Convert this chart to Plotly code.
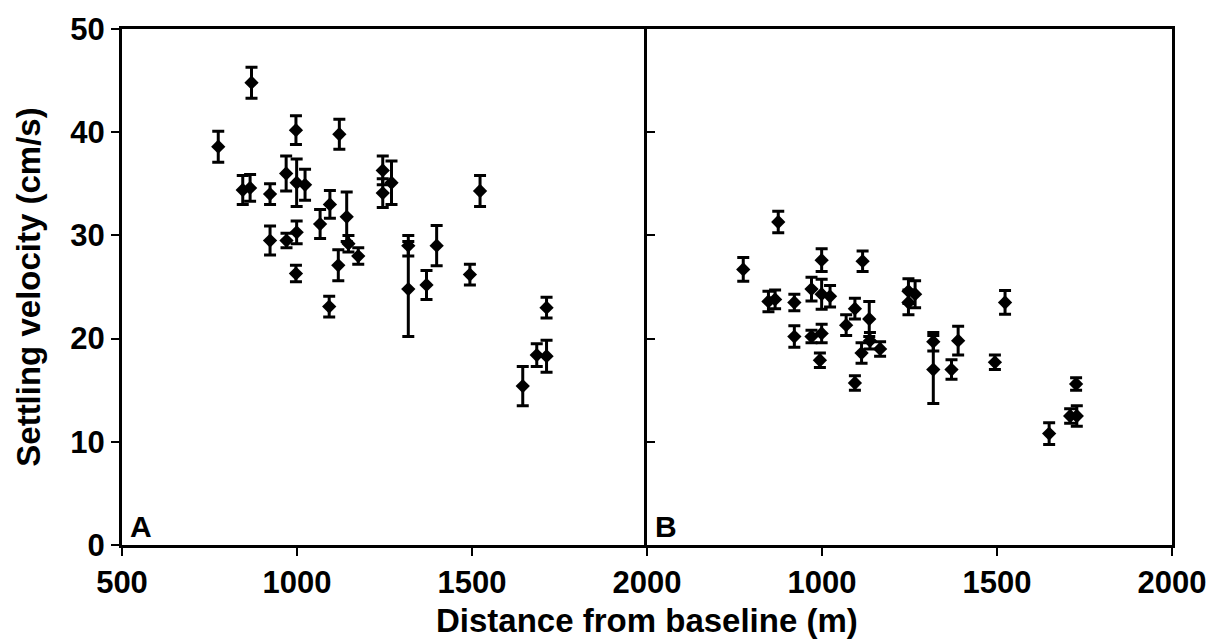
import plotly.graph_objects as go

# Panel A data
dist_a = [775, 870, 845, 866, 923, 923, 997, 969, 999, 1023, 970, 999, 997,
          1121, 1094, 1066, 1142, 1147, 1175, 1118, 1092, 1245, 1245, 1270,
          1523, 1318, 1318, 1370, 1399, 1494, 1713, 1685, 1713, 1645]
vel_a = [38.6, 44.8, 34.4, 34.6, 34.0, 29.5, 40.2, 36.0, 35.1, 34.9, 29.5, 30.3, 26.3,
         39.8, 33.0, 31.1, 31.8, 29.2, 28.0, 27.1, 23.1, 36.3, 34.1, 35.1,
         34.3, 29.0, 24.8, 25.2, 29.0, 26.2, 23.0, 18.4, 18.3, 15.4]
err_a = [1.5, 1.5, 1.4, 1.3, 1.0, 1.4, 1.4, 1.7, 2.3, 1.5, 0.7, 1.1, 0.8,
         1.45, 1.35, 1.4, 2.4, 0.8, 0.8, 1.5, 1.0, 1.4, 1.4, 2.1,
         1.5, 1.0, 4.6, 1.4, 1.95, 1.0, 1.0, 1.1, 1.55, 1.9]

# Panel B data
dist_b = [775, 875, 847, 866, 921, 921, 999, 970, 999, 1023, 970, 999, 994,
          1116, 1094, 1069, 1135, 1137, 1166, 1113, 1094, 1247, 1247, 1266,
          1523, 1318, 1318, 1370, 1389, 1494, 1726, 1728, 1709, 1649]
vel_b = [26.7, 31.3, 23.6, 23.8, 23.5, 20.2, 27.6, 24.8, 24.3, 24.1, 20.2, 20.5, 17.9,
         27.5, 22.9, 21.3, 21.9, 19.8, 19.0, 18.6, 15.7, 24.6, 23.5, 24.3,
         23.5, 19.7, 17.0, 17.0, 19.8, 17.7, 15.6, 12.5, 12.5, 10.8]
err_b = [1.15, 1.05, 1.0, 0.9, 0.8, 1.05, 1.1, 1.15, 1.45, 1.05, 0.6, 0.9, 0.7,
         1.0, 1.0, 1.0, 1.7, 0.8, 0.7, 1.0, 0.7, 1.2, 1.2, 1.3,
         1.15, 0.9, 3.3, 0.95, 1.4, 0.7, 0.6, 1.0, 0.7, 1.05]

x_ticks = [500, 1000, 1500, 2000]
x_ticktext_a = ["500", "1000", "1500", "2000"]
x_ticktext_b = ["", "1000", "1500", "2000"]
y_ticks = [0, 10, 20, 30, 40, 50]

FONT = "Liberation Sans, Arial, sans-serif"
BLACK = "#000000"

fig = go.Figure()
for xs, ys, es, xa, ya in [(dist_a, vel_a, err_a, "x", "y"), (dist_b, vel_b, err_b, "x2", "y2")]:
    fig.add_trace(go.Scatter(
        x=xs, y=ys, mode="markers", xaxis=xa, yaxis=ya,
        marker=dict(symbol="diamond", size=11, color=BLACK),
        error_y=dict(type="data", array=es, visible=True, color=BLACK, thickness=3, width=6),
        showlegend=False,
    ))

tickfont = dict(family=FONT, size=31, color=BLACK, weight="bold")
base = dict(showgrid=False, zeroline=False, showline=True, linecolor=BLACK,
            linewidth=3, ticklen=8, tickwidth=2, tickcolor=BLACK, tickfont=tickfont)

fig.update_layout(
    width=1222, height=643,
    margin=dict(l=122, r=50, t=20, b=98),
    paper_bgcolor="white", plot_bgcolor="white",
    xaxis=dict(domain=[0, 0.5], range=[500, 2000], tickvals=x_ticks, ticktext=x_ticktext_a,
               anchor="y", mirror=True, ticks="outside", **base),
    xaxis2=dict(domain=[0.5, 1], range=[500, 2000], tickvals=x_ticks, ticktext=x_ticktext_b,
                anchor="y2", mirror=True, ticks="outside", **base),
    yaxis=dict(range=[0, 50], tickvals=y_ticks, anchor="x", mirror=False, ticks="outside",
               title=dict(text="Settling velocity (cm/s)", standoff=20,
                          font=dict(family=FONT, size=33, color=BLACK, weight="bold")),
               **base),
    yaxis2=dict(range=[0, 50], tickvals=y_ticks, anchor="x2", showticklabels=False,
                mirror=True, ticks="inside", **base),
    annotations=[
        dict(text="Distance from baseline (m)", xref="paper", yref="paper", x=0.5, y=-0.147,
             xanchor="center", yanchor="middle", showarrow=False,
             font=dict(family=FONT, size=33, color=BLACK, weight="bold")),
        dict(text="A", xref="x domain", yref="y domain", x=0.012, y=0.0, xanchor="left",
             yanchor="bottom", showarrow=False,
             font=dict(family=FONT, size=30, color=BLACK, weight="bold")),
        dict(text="B", xref="x2 domain", yref="y2 domain", x=0.012, y=0.0, xanchor="left",
             yanchor="bottom", showarrow=False,
             font=dict(family=FONT, size=30, color=BLACK, weight="bold")),
    ],
)

fig.write_html("out.html")
